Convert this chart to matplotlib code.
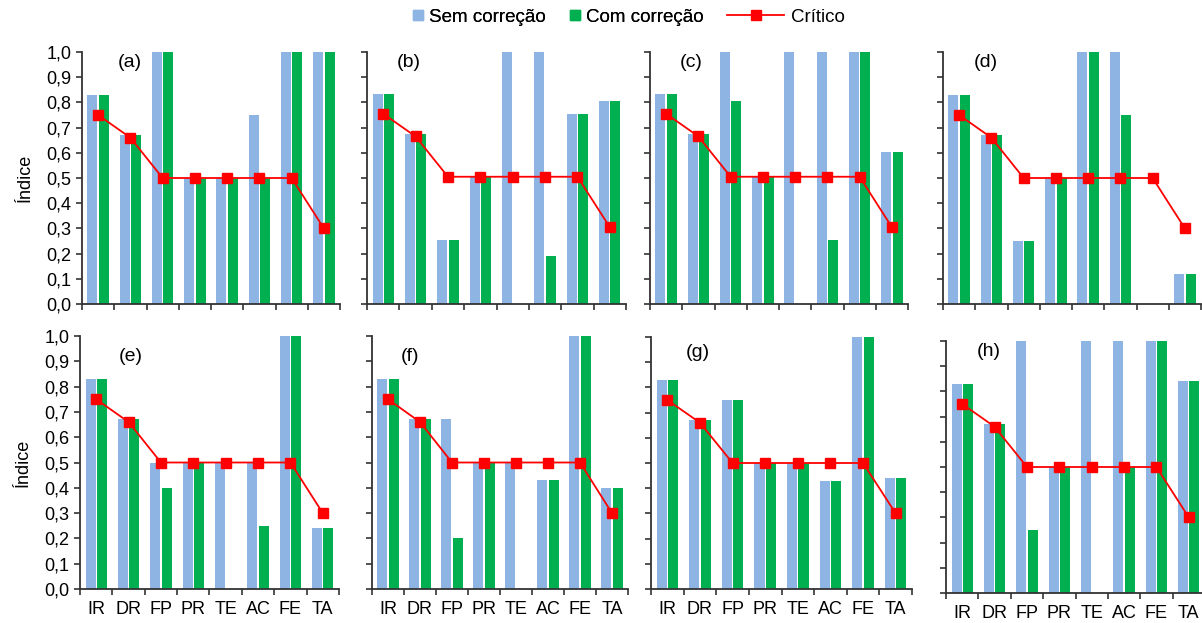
import matplotlib
matplotlib.use('Agg')
import matplotlib.pyplot as plt
import numpy as np
from matplotlib.patches import Patch
from matplotlib.lines import Line2D

plt.rcParams['font.family'] = ['Liberation Sans', 'DejaVu Sans']

categorias = ['IR', 'DR', 'FP', 'PR', 'TE', 'AC', 'FE', 'TA']
rotulos = ['(a)', '(b)', '(c)', '(d)', '(e)', '(f)', '(g)', '(h)']

# valores
sem_a = [0.83, 0.67, 1.00, 0.50, 0.50, 0.75, 1.00, 1.00]
com_a = [0.83, 0.67, 1.00, 0.50, 0.50, 0.50, 1.00, 1.00]
crit_a = [0.75, 0.66, 0.50, 0.50, 0.50, 0.50, 0.50, 0.30]

sem_b = [0.835, 0.675, 0.255, 0.505, 1.00, 1.00, 0.755, 0.805]
com_b = [0.835, 0.675, 0.255, 0.505, 0.00, 0.19, 0.755, 0.805]
crit_b = [0.755, 0.665, 0.505, 0.505, 0.505, 0.505, 0.505, 0.305]

sem_c = [0.835, 0.675, 1.00, 0.505, 1.00, 1.00, 1.00, 0.605]
com_c = [0.835, 0.675, 0.805, 0.505, 0.00, 0.255, 1.00, 0.605]
crit_c = [0.755, 0.665, 0.505, 0.505, 0.505, 0.505, 0.505, 0.305]

sem_d = [0.83, 0.67, 0.25, 0.50, 1.00, 1.00, 0.00, 0.12]
com_d = [0.83, 0.67, 0.25, 0.50, 1.00, 0.75, 0.00, 0.12]
crit_d = [0.75, 0.66, 0.50, 0.50, 0.50, 0.50, 0.50, 0.30]

sem_e = [0.83, 0.67, 0.50, 0.50, 0.50, 0.50, 1.00, 0.24]
com_e = [0.83, 0.67, 0.40, 0.50, 0.00, 0.25, 1.00, 0.24]
crit_e = [0.75, 0.66, 0.50, 0.50, 0.50, 0.50, 0.50, 0.30]

sem_f = [0.83, 0.67, 0.67, 0.50, 0.50, 0.43, 1.00, 0.40]
com_f = [0.83, 0.67, 0.20, 0.50, 0.00, 0.43, 1.00, 0.40]
crit_f = [0.75, 0.66, 0.50, 0.50, 0.50, 0.50, 0.50, 0.30]

sem_g = [0.83, 0.67, 0.75, 0.50, 0.50, 0.43, 1.00, 0.44]
com_g = [0.83, 0.67, 0.75, 0.50, 0.50, 0.43, 1.00, 0.44]
crit_g = [0.75, 0.66, 0.50, 0.50, 0.50, 0.50, 0.50, 0.30]

sem_h = [0.83, 0.67, 1.00, 0.50, 1.00, 1.00, 1.00, 0.84]
com_h = [0.83, 0.67, 0.25, 0.50, 0.00, 0.50, 1.00, 0.84]
crit_h = [0.75, 0.66, 0.50, 0.50, 0.50, 0.50, 0.50, 0.30]

sem_todos = [sem_a, sem_b, sem_c, sem_d, sem_e, sem_f, sem_g, sem_h]
com_todos = [com_a, com_b, com_c, com_d, com_e, com_f, com_g, com_h]
crit_todos = [crit_a, crit_b, crit_c, crit_d, crit_e, crit_f, crit_g, crit_h]

azul = '#8EB4E3'
verde = '#00B050'
vermelho = '#FF0000'

W, H = 1202, 623
fig = plt.figure(figsize=(W / 100, H / 100), dpi=100)

# caixas dos eixos em pixels: esquerda, direita, topo, base
caixas = [(82, 340, 52, 304), (367, 626, 52, 304), (650, 908, 52, 304), (943, 1201, 52, 304),
          (80, 339, 336, 589), (372, 628, 336, 589), (651, 912, 337, 589), (946, 1205, 341, 593)]
pos_rotulo = [(0.14, 0.96), (0.116, 0.96), (0.116, 0.96), (0.12, 0.96),
              (0.15, 0.917), (0.113, 0.917), (0.134, 0.94), (0.12, 0.96)]

x = np.arange(len(categorias))
larg = 0.31
desl = 0.175

for i in range(8):
    l, r, t, b = caixas[i]
    ax = fig.add_axes([l / W, 1 - b / H, (r - l) / W, (b - t) / H])
    ax.bar(x - desl, sem_todos[i], larg, color=azul, zorder=2)
    ax.bar(x + desl, com_todos[i], larg, color=verde, zorder=2)
    ax.plot(x, crit_todos[i], color=vermelho, lw=1.3, marker='s', ms=6.5, zorder=3)

    ax.set_xlim(-0.5, 7.5)
    ax.set_ylim(0, 1.0)
    for s in ['top', 'right']:
        ax.spines[s].set_visible(False)
    for s in ['left', 'bottom']:
        ax.spines[s].set_color('#333333')
        ax.spines[s].set_linewidth(1.3)

    ax.set_yticks(np.arange(0, 1.01, 0.1))
    ax.set_xticks(np.arange(-0.5, 8, 1))
    ax.set_xticklabels([])
    ax.tick_params(axis='both', direction='out', length=4, width=1.2, color='#333333', labelsize=13)
    if i >= 4:
        ax.set_xticks(x, minor=True)
        ax.set_xticklabels(categorias, minor=True)
        ax.tick_params(axis='x', which='minor', length=0, pad=9, labelsize=13)
    if i % 4 == 0:
        ax.set_yticklabels([('%.1f' % v).replace('.', ',') for v in np.arange(0, 1.01, 0.1)])
        ax.set_ylabel('Índice', fontsize=13, labelpad=9)
    else:
        ax.set_yticklabels([])
    ax.text(pos_rotulo[i][0], pos_rotulo[i][1], rotulos[i], transform=ax.transAxes,
            fontsize=14, va='center', ha='left')

h1 = [Patch(color=azul), Patch(color=verde)]
leg1 = fig.legend(h1, ['Sem correção', 'Com correção'], loc='center left',
                  bbox_to_anchor=(404 / W, 1 - 17 / H), ncol=2, frameon=False,
                  fontsize=13.5, handlelength=0.5, handleheight=0.5,
                  handletextpad=0.35, columnspacing=1.3, borderpad=0)
h2 = [Line2D([], [], color=vermelho, lw=1.3, marker='s', ms=6.5)]
leg2 = fig.legend(h2, ['Crítico'], loc='center left',
                  bbox_to_anchor=(718 / W, 1 - 17 / H), frameon=False,
                  fontsize=13.5, handlelength=3.0, handletextpad=0.4, borderpad=0)
fig.add_artist(leg1)

fig.savefig('out.png', dpi=100)
